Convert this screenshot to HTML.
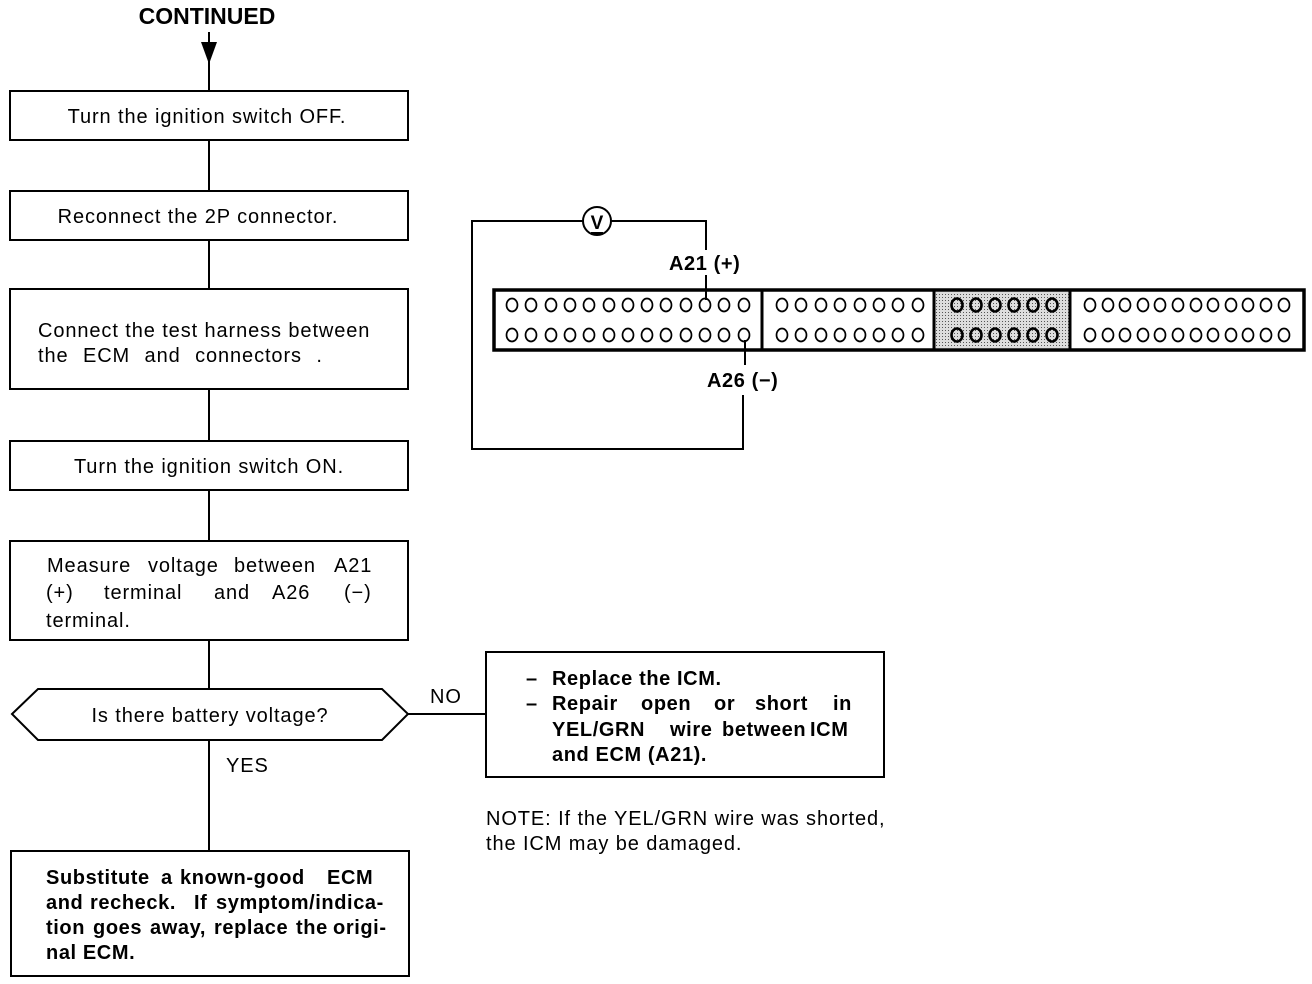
<!DOCTYPE html>
<html><head><style>
html,body{margin:0;padding:0;background:#fff;}
svg{display:block;font-family:"Liberation Sans",sans-serif;}
.t{font-size:20px;fill:#000;letter-spacing:0.9px}
.b{font-size:20px;font-weight:bold;fill:#000;letter-spacing:0.6px}
</style></head><body>
<svg width="1312" height="984" viewBox="0 0 1312 984" xmlns="http://www.w3.org/2000/svg">
<defs>
<pattern id="dots" width="3" height="3" patternUnits="userSpaceOnUse"><rect width="3" height="3" fill="#ddd"/><rect width="1" height="1" fill="#555"/></pattern>
</defs>
<text x="207" y="24" text-anchor="middle" font-size="23" font-weight="bold">CONTINUED</text>
<line x1="209" y1="32" x2="209" y2="91" stroke="#000" stroke-width="2"/>
<polygon points="201,42 217,42 209,64" fill="#000"/>
<g stroke="#000" stroke-width="2" fill="none">
<line x1="209" y1="140" x2="209" y2="191"/>
<line x1="209" y1="240" x2="209" y2="289"/>
<line x1="209" y1="389" x2="209" y2="441"/>
<line x1="209" y1="490" x2="209" y2="541"/>
<line x1="209" y1="640" x2="209" y2="689"/>
<line x1="209" y1="740" x2="209" y2="851"/>
<line x1="408" y1="714" x2="486" y2="714"/>
<rect x="10" y="91" width="398" height="49"/>
<rect x="10" y="191" width="398" height="49"/>
<rect x="10" y="289" width="398" height="100"/>
<rect x="10" y="441" width="398" height="49"/>
<rect x="10" y="541" width="398" height="99"/>
<polygon points="12,714 38,689 382,689 408,714 382,740 38,740"/>
<rect x="11" y="851" width="398" height="125"/>
<rect x="486" y="652" width="398" height="125"/>
</g>
<text class="t" x="207" y="123" text-anchor="middle">Turn the ignition switch OFF.</text>
<text class="t" x="198" y="223" text-anchor="middle">Reconnect the 2P connector.</text>
<text class="t" x="38" y="337" letter-spacing="0.5">Connect the test harness between</text>
<text class="t" x="38" y="362" word-spacing="8">the ECM and connectors .</text>
<text class="t" x="209" y="473" text-anchor="middle">Turn the ignition switch ON.</text>
<text class="t" y="572"><tspan x="47">Measure</tspan><tspan x="148">voltage</tspan><tspan x="234">between</tspan><tspan x="334">A21</tspan></text>
<text class="t" y="599"><tspan x="46">(+)</tspan><tspan x="104">terminal</tspan><tspan x="214">and</tspan><tspan x="272">A26</tspan><tspan x="344">(−)</tspan></text>
<text class="t" x="46" y="627">terminal.</text>
<text class="t" x="210" y="722" text-anchor="middle">Is there battery voltage?</text>
<text class="t" x="430" y="703">NO</text>
<text class="t" x="226" y="772">YES</text>
<text class="b" y="884"><tspan x="46">Substitute</tspan><tspan x="161">a</tspan><tspan x="180">known-good</tspan><tspan x="327">ECM</tspan></text>
<text class="b" y="909"><tspan x="46">and</tspan><tspan x="90">recheck.</tspan><tspan x="194">If</tspan><tspan x="216">symptom/indica-</tspan></text>
<text class="b" y="934"><tspan x="46">tion</tspan><tspan x="93">goes</tspan><tspan x="150">away,</tspan><tspan x="214">replace</tspan><tspan x="296">the</tspan><tspan x="333">origi-</tspan></text>
<text class="b" x="46" y="959">nal ECM.</text>
<text class="b" y="685"><tspan x="526">–</tspan><tspan x="552">Replace the ICM.</tspan></text>
<text class="b" y="710"><tspan x="526">–</tspan><tspan x="552">Repair</tspan><tspan x="641">open</tspan><tspan x="714">or</tspan><tspan x="755">short</tspan><tspan x="833">in</tspan></text>
<text class="b" y="736"><tspan x="552">YEL/GRN</tspan><tspan x="670">wire</tspan><tspan x="722">between</tspan><tspan x="810">ICM</tspan></text>
<text class="b" x="552" y="761">and ECM (A21).</text>
<text class="t" x="486" y="825" font-size="19" letter-spacing="0.3">NOTE: If the YEL/GRN wire was shorted,</text>
<text class="t" x="486" y="850" font-size="19" letter-spacing="0.3">the ICM may be damaged.</text>
<!-- connector -->
<g stroke="#000" stroke-width="2" fill="none">
<polyline points="583,221 472,221 472,449 743,449 743,395"/>
<polyline points="611,221 706,221 706,250"/>
<line x1="706" y1="275" x2="706" y2="300"/>
<line x1="745" y1="340" x2="745" y2="365"/>
<circle cx="597" cy="221" r="14"/>
</g>
<text x="597" y="229" text-anchor="middle" font-size="19" font-weight="bold">V</text>
<line x1="591" y1="233" x2="603" y2="233" stroke="#000" stroke-width="2"/>
<text class="b" x="669" y="270">A21 (+)</text>
<text class="b" x="707" y="387">A26 (−)</text>
<rect x="935" y="292" width="134" height="56" fill="url(#dots)"/>
<rect x="494" y="290" width="810" height="60" fill="none" stroke="#000" stroke-width="3.5"/>
<g stroke="#000" stroke-width="3">
<line x1="762" y1="290" x2="762" y2="350"/>
<line x1="934" y1="290" x2="934" y2="350"/>
<line x1="1070" y1="290" x2="1070" y2="350"/>
</g>
<g id="prow" fill="none" stroke="#000" stroke-width="1.7">
<ellipse cx="512" cy="305" rx="5.5" ry="6.5"/><ellipse cx="531" cy="305" rx="5.5" ry="6.5"/><ellipse cx="551" cy="305" rx="5.5" ry="6.5"/><ellipse cx="570" cy="305" rx="5.5" ry="6.5"/><ellipse cx="589" cy="305" rx="5.5" ry="6.5"/><ellipse cx="609" cy="305" rx="5.5" ry="6.5"/><ellipse cx="628" cy="305" rx="5.5" ry="6.5"/><ellipse cx="647" cy="305" rx="5.5" ry="6.5"/><ellipse cx="666" cy="305" rx="5.5" ry="6.5"/><ellipse cx="686" cy="305" rx="5.5" ry="6.5"/><ellipse cx="705" cy="305" rx="5.5" ry="6.5"/><ellipse cx="724" cy="305" rx="5.5" ry="6.5"/><ellipse cx="744" cy="305" rx="5.5" ry="6.5"/>
<ellipse cx="782" cy="305" rx="5.5" ry="6.5"/><ellipse cx="801" cy="305" rx="5.5" ry="6.5"/><ellipse cx="821" cy="305" rx="5.5" ry="6.5"/><ellipse cx="840" cy="305" rx="5.5" ry="6.5"/><ellipse cx="860" cy="305" rx="5.5" ry="6.5"/><ellipse cx="879" cy="305" rx="5.5" ry="6.5"/><ellipse cx="898" cy="305" rx="5.5" ry="6.5"/><ellipse cx="918" cy="305" rx="5.5" ry="6.5"/>
<g stroke-width="2.6"><ellipse cx="957" cy="305" rx="5.5" ry="6.5"/><ellipse cx="976" cy="305" rx="5.5" ry="6.5"/><ellipse cx="995" cy="305" rx="5.5" ry="6.5"/><ellipse cx="1014" cy="305" rx="5.5" ry="6.5"/><ellipse cx="1033" cy="305" rx="5.5" ry="6.5"/><ellipse cx="1052" cy="305" rx="5.5" ry="6.5"/></g>
<ellipse cx="1090" cy="305" rx="5.5" ry="6.5"/><ellipse cx="1108" cy="305" rx="5.5" ry="6.5"/><ellipse cx="1125" cy="305" rx="5.5" ry="6.5"/><ellipse cx="1143" cy="305" rx="5.5" ry="6.5"/><ellipse cx="1160" cy="305" rx="5.5" ry="6.5"/><ellipse cx="1178" cy="305" rx="5.5" ry="6.5"/><ellipse cx="1196" cy="305" rx="5.5" ry="6.5"/><ellipse cx="1213" cy="305" rx="5.5" ry="6.5"/><ellipse cx="1231" cy="305" rx="5.5" ry="6.5"/><ellipse cx="1248" cy="305" rx="5.5" ry="6.5"/><ellipse cx="1266" cy="305" rx="5.5" ry="6.5"/><ellipse cx="1284" cy="305" rx="5.5" ry="6.5"/>
</g>
<use href="#prow" x="0" y="30"/>
</svg>
</body></html>
